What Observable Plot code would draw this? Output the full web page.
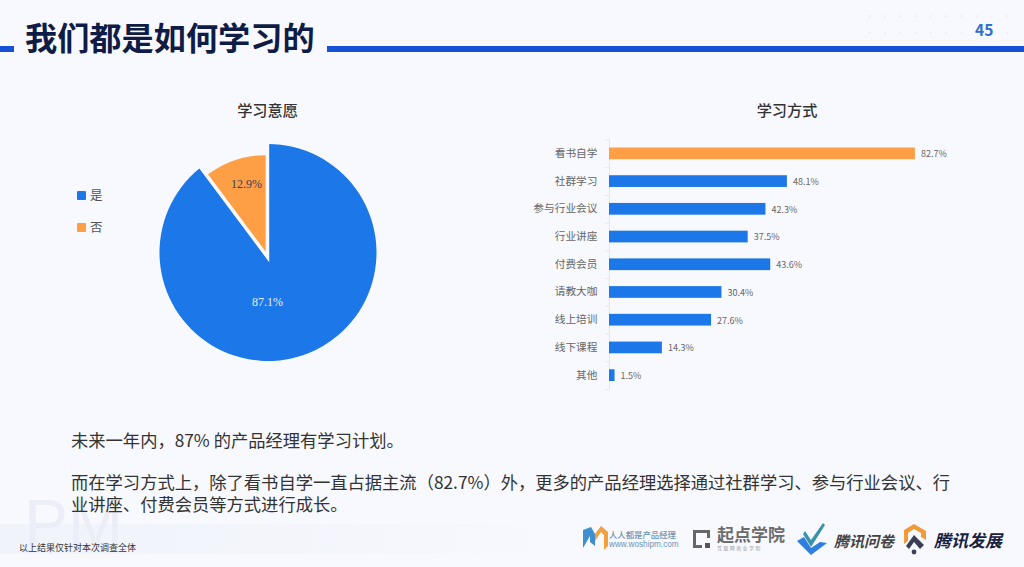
<!DOCTYPE html>
<html lang="zh">
<head>
<meta charset="utf-8">
<script src="https://cdn.jsdelivr.net/npm/d3@7"></script>
<script src="https://cdn.jsdelivr.net/npm/@observablehq/plot@0.6"></script>
<style>
  html,body{margin:0;padding:0;width:1024px;height:567px;overflow:hidden;background:#f8f9fe;
    font-family:"Noto Sans CJK SC","Noto Sans",sans-serif;color:#333;}
  #page{position:relative;width:1024px;height:567px;overflow:hidden;}
  .abs{position:absolute;white-space:nowrap;line-height:1;}
  .chart{position:absolute;}
  .chart svg{display:block;overflow:visible;background:transparent;}
  .band{position:absolute;left:0;top:524px;width:560px;height:30px;
    background:linear-gradient(90deg,#f1f3fb 0%,#f4f6fc 65%,rgba(248,249,254,0) 100%);}
  .dots{position:absolute;left:862px;top:8px;width:156px;height:26px;
    background-image:radial-gradient(circle,#eff0f7 1.1px,transparent 1.5px);background-size:15.3px 16.5px;}
  .swatch{position:absolute;width:9.5px;height:9.5px;border-radius:1px;}
</style>
</head>
<body>
<div id="page">
  <div class="band"></div>
  <div class="dots"></div>
  <div class="abs" style="left:24px;top:490px;font-size:66px;color:#ecEEf7;font-family:'Liberation Sans',sans-serif;">PM</div>

  <div class="abs" style="left:0;top:46px;width:14px;height:6px;background:#1652d6;"></div>
  <div class="abs" style="left:327px;top:45.5px;right:0;height:6.5px;background:#1652d6;"></div>
  <div class="abs" style="left:25px;top:20px;font-size:32.2px;font-weight:700;color:#0e1c46;">我们都是如何学习的</div>
  <div class="abs" style="left:975px;top:22px;font-size:15.5px;font-weight:700;color:#2e6fd2;">45</div>

  <div class="abs" style="left:167.5px;width:200px;text-align:center;top:101.5px;font-size:15.2px;font-weight:500;color:#333;">学习意愿</div>
  <div class="abs" style="left:687px;width:200px;text-align:center;top:101.5px;font-size:15.2px;font-weight:500;color:#333;">学习方式</div>

  <div id="legend"></div>
  <div id="pie" class="chart" style="left:150px;top:135px;"></div>
  <div id="bars" class="chart" style="left:520px;top:130px;"></div>

  <div class="abs" style="left:71px;top:431px;font-size:17.3px;color:#333;">未来一年内，87% 的产品经理有学习计划。</div>
  <div class="abs" style="left:71px;top:472.5px;font-size:17.3px;color:#333;">而在学习方式上，除了看书自学一直占据主流（82.7%）外，更多的产品经理选择通过社群学习、参与行业会议、行</div>
  <div class="abs" style="left:71px;top:495px;font-size:17.3px;color:#333;">业讲座、付费会员等方式进行成长。</div>
  <div class="abs" style="left:19px;top:543px;font-size:9px;color:#333;">以上结果仅针对本次调查全体</div>

  <!-- footer logos (decorative) -->
  <svg class="abs" style="left:580px;top:522px;" width="30" height="30" viewBox="0 0 30 30">
    <path d="M3 8 L11 5 L15 12 V24 L10 20 L10 14 L3 26Z" fill="#3f8fd0"/>
    <path d="M15 12 L21 4 L28 10 V24 L24 28 V13 L21 10 L15 19Z" fill="#f2a03d"/>
  </svg>
  <div class="abs" style="left:609px;top:530px;font-size:8.4px;color:#6d93b5;font-weight:500;">人人都是产品经理</div>
  <div class="abs" style="left:609px;top:541px;font-size:8.2px;color:#6d93b5;font-weight:500;font-family:'Liberation Sans',sans-serif;">www.woshipm.com</div>
  <svg class="abs" style="left:691px;top:528px;" width="22" height="22" viewBox="0 0 22 22">
    <path d="M2 2H19V10H16V5H5V17H11V20H2Z" fill="#666"/><rect x="14" y="15" width="5" height="5" fill="#555"/>
  </svg>
  <div class="abs" style="left:717px;top:525px;font-size:17px;font-weight:700;color:#6c6c6c;">起点学院</div>
  <div class="abs" style="left:717px;top:545px;font-size:5px;letter-spacing:1.4px;color:#999;">互联网商业学院</div>
  <svg class="abs" style="left:796px;top:522px;" width="32" height="34" viewBox="0 0 32 34">
    <path d="M1 19 L8 15 L15 26 L24 20 L31 21 L15 33Z" fill="#2f7fe0"/>
    <path d="M9 9 L15 18 L27 1 L29 3 L15 25 L7 12Z" fill="#3a93a8"/>
  </svg>
  <div class="abs" style="left:834px;top:533px;font-size:15px;font-weight:700;font-style:italic;color:#444;">腾讯问卷</div>
  <svg class="abs" style="left:902px;top:522px;" width="26" height="34" viewBox="0 0 26 34">
    <path d="M12 2 L24 9 L24 18 L19 15 L19 11 L12 7 L6 11 L6 19 L2 22 L2 8Z" fill="#f09a3a"/>
    <path d="M12 13 L22 23 L18 27 L12 20 L7 27 L4 24Z" fill="#3a3f55"/><circle cx="12" cy="30" r="2.4" fill="#3a3f55"/>
  </svg>
  <div class="abs" style="left:934px;top:531px;font-size:17px;font-weight:700;font-style:italic;color:#17213e;">腾讯发展</div>
</div>

<script>
// ---------- pie: 学习意愿 ----------
const pieNames  = ["是", "否"];
const pieLabels = ["87.1%", "12.9%"];
// Angular shares as drawn in the picture; the printed labels above differ from them.
const pieDrawnShares = [89.8, 10.2];
const pieColors = ["#1c78e8", "#ff9f45"];

// ---------- bars: 学习方式 ----------
const methods = ["看书自学","社群学习","参与行业会议","行业讲座","付费会员","请教大咖","线上培训","线下课程","其他"];
const methodValues = [82.7, 48.1, 42.3, 37.5, 43.6, 30.4, 27.6, 14.3, 1.5];

const BG = "#f8f9fe";
const FONT = '"Noto Sans CJK SC","Noto Sans",sans-serif';

const pieData = pieNames.map((name, i) => ({name, share: pieDrawnShares[i], label: pieLabels[i]}));

function renderPie(index, scales, values, dimensions) {
  const cx = dimensions.width / 2 - 2, cy = dimensions.height / 2 - 2.5, R = 108.5;
  const arcs = d3.pie().value(d => d.share).sort(null)(pieData);
  const arc = d3.arc().innerRadius(0);
  const g = d3.create("svg:g");
  const blue = arcs[0], orange = arcs[1];
  const colorOf = i => scales.color(pieData[i].name);
  // main slice, run slightly under the gap so the gap alone shapes its notch
  g.append("path")
    .attr("transform", `translate(${cx},${cy})`)
    .attr("d", arc.outerRadius(R)({startAngle: blue.startAngle, endAngle: blue.endAngle + 0.07}))
    .attr("fill", colorOf(0));
  // small slice pulled toward upper left, with a background-coloured gap around it
  const ox = cx - 2.3, oy = cy - 0.8;
  g.append("path")
    .attr("transform", `translate(${ox},${oy})`)
    .attr("d", arc.outerRadius(R + 14)({startAngle: orange.startAngle, endAngle: orange.endAngle}))
    .attr("fill", BG).attr("stroke", BG).attr("stroke-width", 7).attr("stroke-miterlimit", 6);
  g.append("path")
    .attr("transform", `translate(${ox},${oy})`)
    .attr("d", arc.outerRadius(96.5)({startAngle: orange.startAngle, endAngle: orange.endAngle}))
    .attr("fill", colorOf(1));
  // labels
  const label = (text, x, y, fill) => g.append("text")
    .attr("x", x).attr("y", y).attr("text-anchor", "middle").attr("dominant-baseline", "central")
    .attr("font-family", '"Liberation Serif",serif').attr("font-size", 12).attr("fill", fill).text(text);
  label(pieData[0].label, cx - 0.5, cy + 49.5, "#e6effc");
  label(pieData[1].label, cx - 21.5, cy - 68.5, "#33415c");
  return g.node();
}

const pie = Plot.plot({
  width: 240, height: 240, margin: 0,
  x: {axis: null}, y: {axis: null},
  color: {domain: pieNames, range: pieColors},
  marks: [Plot.dot(pieData, {fill: "name", r: 1, frameAnchor: "middle", render: renderPie})]
});
document.getElementById("pie").append(pie);

// legend
const legend = document.getElementById("legend");
pieNames.forEach((name, i) => {
  const top = 190.5 + i * 32;
  const sw = document.createElement("div");
  sw.className = "swatch";
  sw.style.cssText = `left:76.7px;top:${top}px;background:${pieColors[i]};`;
  const t = document.createElement("div");
  t.className = "abs";
  t.style.cssText = `left:90px;top:${top - 1.7}px;font-size:12.5px;color:#555;`;
  t.textContent = name;
  legend.append(sw, t);
});

// bars
const barData = methods.map((name, i) => ({name, value: methodValues[i], top: i === 0}));
const bars = Plot.plot({
  width: 450, height: 262,
  marginLeft: 89, marginRight: 0, marginTop: 9.5, marginBottom: 3,
  style: {background: "transparent", fontFamily: FONT},
  x: {domain: [0, 97.6], axis: null},
  y: {domain: methods, padding: 0, round: false, axis: null},
  marks: [
    Plot.ruleX([0], {stroke: "#e6e7ed", strokeWidth: 1}),
    Plot.ruleY(methods, {y: d => d, x1: -1, x2: 0, dy: -13.86, stroke: "#e6e7ed"}),
    Plot.ruleY(methods.slice(-1), {y: d => d, x1: -1, x2: 0, dy: 13.86, stroke: "#e6e7ed"}),
    Plot.barX(barData, {y: "name", x: "value", insetTop: 8, insetBottom: 8,
      fill: d => d.top ? pieColors[1] : pieColors[0]}),
    Plot.axisY({tickSize: 0, tickPadding: 12, label: null, fontSize: 10.7, color: "#666", stroke: "none", dy: -0.5}),
    Plot.text(barData, {y: "name", x: "value", text: d => d.value + "%", textAnchor: "start",
      dx: 5.5, dy: 0.5, fontSize: 9, fill: "#666"})
  ]
});
document.getElementById("bars").append(bars);
</script>
</body>
</html>
